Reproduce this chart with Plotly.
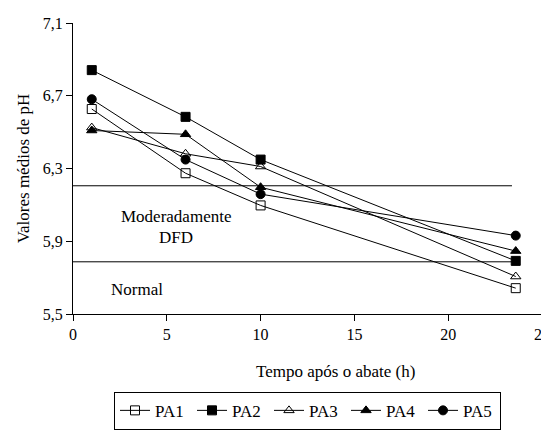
import plotly.graph_objects as go

tempo = [1, 6, 10, 23.6]
series_names = ["PA1", "PA2", "PA3", "PA4", "PA5"]
pa1 = [6.627, 6.274, 6.097, 5.642]
pa2 = [6.841, 6.584, 6.349, 5.792]
pa3 = [6.525, 6.381, 6.311, 5.706]
pa4 = [6.509, 6.488, 6.197, 5.846]
pa5 = [6.681, 6.349, 6.159, 5.931]
limiares = [6.205, 5.787]
limiar_x = [0, 23.4]
x_ticks = [0, 5, 10, 15, 20, 25]
y_ticks = [5.5, 5.9, 6.3, 6.7, 7.1]

symbols = ["square-open", "square", "triangle-up-open", "triangle-up", "circle"]
font = "Liberation Serif, Times New Roman, serif"

fig = go.Figure()
for y in limiares:
    fig.add_trace(go.Scatter(x=limiar_x, y=[y, y], mode="lines",
                             line=dict(color="black", width=1),
                             showlegend=False, hoverinfo="skip"))

for name, vals, sym in zip(series_names, [pa1, pa2, pa3, pa4, pa5], symbols):
    fig.add_trace(go.Scatter(
        x=tempo, y=vals, mode="lines+markers", name=name,
        line=dict(color="black", width=1),
        marker=dict(symbol=sym, size=9, color="black",
                    line=dict(color="black", width=1)),
    ))

afont = dict(family=font, size=17, color="black")
fig.add_annotation(x=5.5, y=6.034, text="Moderadamente", showarrow=False, font=afont)
fig.add_annotation(x=5.5, y=5.922, text="DFD", showarrow=False, font=afont)
fig.add_annotation(x=1.9, y=5.632, text="Normal", showarrow=False, xanchor="left", font=afont)
fig.add_annotation(x=0.56, y=-0.198, xref="paper", yref="paper", yanchor="middle",
                   text="Tempo após o abate (h)", showarrow=False, font=afont)

fig.update_layout(
    width=549, height=434,
    margin=dict(l=65, r=15, t=15, b=120),
    paper_bgcolor="white", plot_bgcolor="white",
    separators=",.",
    font=dict(family=font, size=16, color="black"),
    showlegend=True,
    legend=dict(orientation="h", x=0.5, xanchor="center", y=-0.398, yanchor="bottom",
                bordercolor="black", borderwidth=1, font=dict(family=font, size=17),
                entrywidth=32, itemwidth=30, tracegroupgap=0),
    xaxis=dict(range=[0, 25], tickvals=x_ticks, showgrid=False, zeroline=False,
               showline=True, linecolor="black", linewidth=1,
               ticks="outside", ticklen=6, tickcolor="black",
               ticklabeloverflow="allow", automargin=False,
               tickfont=dict(family=font, size=16)),
    yaxis=dict(range=[5.5, 7.1], tickvals=y_ticks, tickformat=".1f",
               showgrid=False, zeroline=False,
               showline=True, linecolor="black", linewidth=1,
               ticks="outside", ticklen=6, tickcolor="black",
               automargin=False,
               tickfont=dict(family=font, size=16),
               title=dict(text="Valores médios de pH", font=afont, standoff=8)),
)
fig.write_html("out.html")
